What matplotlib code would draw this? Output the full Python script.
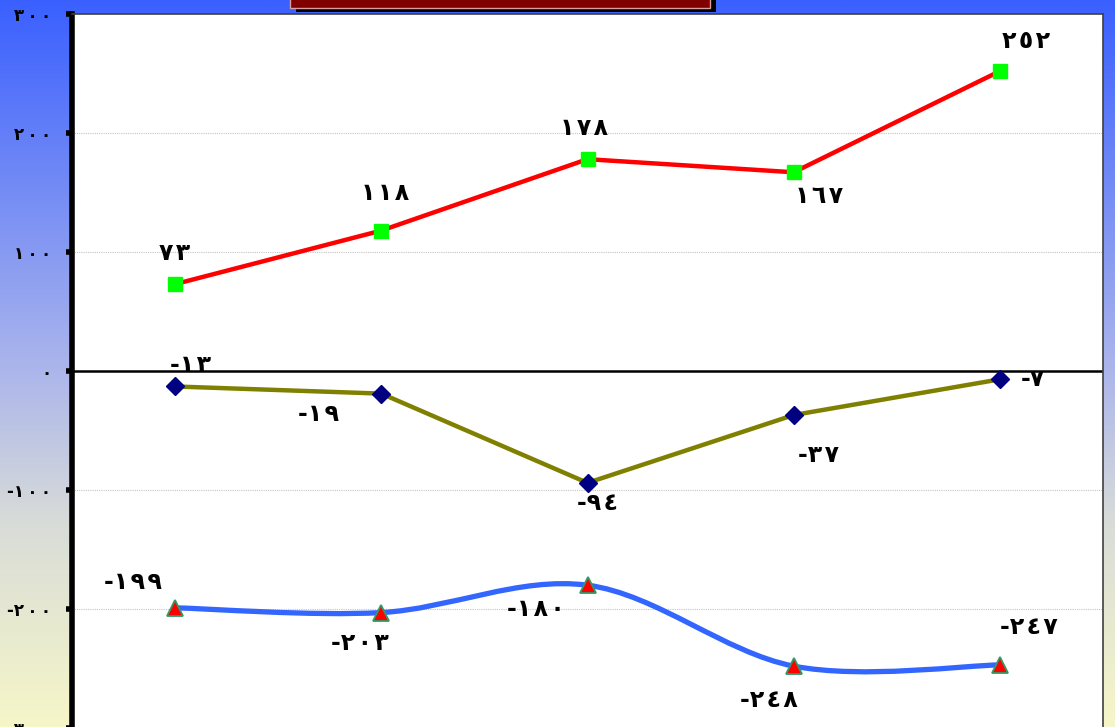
import numpy as np
import matplotlib
matplotlib.use("Agg")
import matplotlib.pyplot as plt
from matplotlib.path import Path
from matplotlib.patches import PathPatch, Rectangle
from matplotlib.colors import LinearSegmentedColormap

# ---- data ----
categories = [1, 2, 3, 4, 5]
series_top = [73, 118, 178, 167, 252]
series_mid = [-13, -19, -94, -37, -7]
series_low = [-199, -203, -180, -248, -247]
y_ticks = [300, 200, 100, 0, -100, -200, -300]

AR = str.maketrans("0123456789", "٠١٢٣٤٥٦٧٨٩")


def arabic(v, sep=""):
    s = sep.join(str(abs(int(v))).translate(AR))
    return ("-" + s) if v < 0 else s


W, H = 1115, 727
fig = plt.figure(figsize=(W / 100, H / 100), dpi=100)

# gradient backdrop
bg = fig.add_axes([0, 0, 1, 1], zorder=0)
cmap = LinearSegmentedColormap.from_list(
    "bg", [(0.0, "#3a60ff"), (0.5, "#aab4ec"), (0.72, "#d8dcd8"), (1.0, "#f6f6c8")])
grad = np.linspace(0, 1, 256).reshape(-1, 1)
bg.imshow(grad, aspect="auto", cmap=cmap, extent=[0, 1, 0, 1], origin="upper")
bg.set_xlim(0, 1)
bg.set_ylim(0, 1)
bg.axis("off")

# plot area
left, right, top = 72, 1103, 14
ax = fig.add_axes([left / W, -1 / H, (right - left) / W, (H + 1 - top) / H], zorder=1)
ax.set_facecolor("white")
x = np.arange(len(categories))
ax.set_xlim(-0.5, len(categories) - 0.5)
ax.set_ylim(-300, 300)

ax.set_yticks(y_ticks)
ax.set_yticklabels([arabic(v, "\u2009") for v in y_ticks], fontsize=12, fontweight="bold",
                   family="DejaVu Sans")
ax.tick_params(axis="y", length=4, width=4, pad=11, color="black")
ax.set_xticks([])

for g in [200, 100, -100, -200]:
    ax.axhline(g, color="#c4c4c4", lw=0.8, ls=(0, (1, 1)), zorder=1)
ax.axhline(0, color="black", lw=1.8, zorder=2)

ax.spines["left"].set_linewidth(4)
ax.spines["left"].set_color("black")
for s in ["top", "right"]:
    ax.spines[s].set_linewidth(1.2)
    ax.spines[s].set_color("#404040")
ax.spines["bottom"].set_visible(False)

# top series
ax.plot(x, series_top, color="#ff0000", lw=3.2, zorder=3)
ax.plot(x, series_top, ls="none", marker="s", ms=9.5, mfc="#00ff00", mec="#00ff00", zorder=4)

# middle series
ax.plot(x, series_mid, color="#808000", lw=3.2, zorder=3)
ax.plot(x, series_mid, ls="none", marker="D", ms=9.5, mfc="#000080", mec="#000080", zorder=4)


# lower series: smoothed curve (Catmull-Rom style cubic Bezier through points)
def smooth_path(xs, ys):
    pts = np.column_stack([xs, ys]).astype(float)
    n = len(pts)
    verts = [pts[0]]
    codes = [Path.MOVETO]
    for i in range(n - 1):
        p0 = pts[i - 1] if i > 0 else pts[i]
        p1 = pts[i]
        p2 = pts[i + 1]
        p3 = pts[i + 2] if i + 2 < n else pts[i + 1]
        c1 = p1 + (p2 - p0) / 6.0
        c2 = p2 - (p3 - p1) / 6.0
        verts += [c1, c2, p2]
        codes += [Path.CURVE4] * 3
    return Path(verts, codes)


ax.add_patch(PathPatch(smooth_path(x, series_low), fill=False, ec="#3366ff", lw=3.8, zorder=3))
ax.plot(x, series_low, ls="none", marker="^", ms=12, mfc="#ff0000", mec="#339966",
        mew=1.3, zorder=4)

# value labels (offsets in pixels)
off_top = [(0, 31), (4, 38), (-4, 31), (25, -24), (26, 30)]
off_mid = [(15, 21), (-63, -20), (10, -20), (25, -40), (33, 0)]
off_low = [(-42, 26), (-21, -30), (-52, -24), (-25, -34), (29, 38)]

for series, offs in [(series_top, off_top), (series_mid, off_mid), (series_low, off_low)]:
    for xi, v, (dx, dy) in zip(x, series, offs):
        ax.annotate(arabic(v, "\u200a"), (xi, v), xytext=(dx, dy), textcoords="offset pixels",
                    ha="center", va="center", fontsize=17, fontweight="bold",
                    family="DejaVu Sans", color="black", zorder=5)

# heading box at the top edge
fig.patches.append(Rectangle((296 / W, 1 - 12 / H), 420 / W, 12 / H, transform=fig.transFigure,
                             fc="black", ec="none", zorder=2))
fig.patches.append(Rectangle((290 / W, 1 - 8 / H), 420 / W, 10 / H, transform=fig.transFigure,
                             fc="#800000", ec="#d8a0a0", lw=1.0, zorder=3))

fig.savefig("out.png", dpi=100)
